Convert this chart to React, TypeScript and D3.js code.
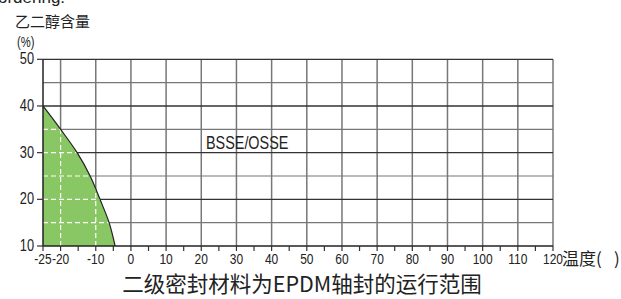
import React from "react";
import * as d3 from "d3";

const xTickLabels = [-25, -20, -10, 0, 10, 20, 30, 40, 50, 60, 70, 80, 90, 100, 110, 120];
const xMinorTicks = [-25, -20, -15, -10, -5, 0, 5, 10, 15, 20, 25, 30, 35, 40, 45, 50, 55, 60, 65, 70, 75, 80, 85, 90, 95, 100, 105, 110, 115, 120];
const xGrid = [-20, -10, 0, 10, 20, 30, 40, 50, 60, 70, 80, 90, 100, 110, 120];
const yTickLabels = [10, 20, 30, 40, 50];
const yGridMajor = [20, 30, 40, 50];
const yGridMinor = [15, 25, 35, 45];
// boundary of the operating range: glycol content (%) vs temperature
const boundaryGlycol = [40, 35, 30, 25, 20, 15, 10];
const boundaryTemp = [-25, -20, -15.3, -11.6, -8.8, -6.2, -4.5];

const W = 621, H = 299;
const left = 43, right = 553, top = 59.3, bottom = 246;

const narrowFont = "'Liberation Sans', Arial, sans-serif";
const cjkFont = "'Noto Sans CJK SC', 'Noto Sans', sans-serif";
const SX = 0.8;

function Narrow(props: { x: number; y: number; size: number; anchor?: string; children: React.ReactNode }) {
  return (
    <text
      transform={`translate(${props.x},${props.y}) scale(${SX},1)`}
      textAnchor={props.anchor || "start"}
      fontFamily={narrowFont}
      fontSize={props.size}
      fill="#222"
    >
      {props.children}
    </text>
  );
}

export default function App() {
  const x = d3.scaleLinear().domain([-25, 120]).range([left, right]);
  const y = d3.scaleLinear().domain([10, 50]).range([bottom, top]);

  const pts = boundaryGlycol.map((g, i) => ({ g, t: boundaryTemp[i] }));
  const curve = d3.line<{ g: number; t: number }>()
    .x(d => x(d.t)).y(d => y(d.g)).curve(d3.curveMonotoneY);
  const area = d3.area<{ g: number; t: number }>()
    .y(d => y(d.g)).x0(() => x(-25)).x1(d => x(d.t)).curve(d3.curveMonotoneY);
  const areaPath = area(pts) || "";
  const curvePath = curve(pts) || "";

  return (
    <svg width={W} height={H} style={{ position: "absolute", left: 0, top: 0, background: "#fff" }}>
      <defs>
        <clipPath id="greenClip"><path d={areaPath} /></clipPath>
      </defs>
      {/* cropped header text */}
      <text x={-2} y={3} fontFamily="'Liberation Sans', sans-serif" fontSize={17} fill="#222">ordering.</text>
      <text x={15} y={27} fontFamily={cjkFont} fontSize={15} fill="#222">乙二醇含量</text>
      <Narrow x={17} y={47} size={14}>(%)</Narrow>

      {/* grid */}
      {yGridMinor.map(v => (
        <line key={"ym" + v} x1={x(-25)} x2={x(120)} y1={y(v)} y2={y(v)} stroke="#777" strokeWidth={1.2} />
      ))}
      {xGrid.map(v => (
        <line key={"xg" + v} x1={x(v)} x2={x(v)} y1={y(10)} y2={y(50)} stroke="#777" strokeWidth={1.5} />
      ))}
      {yGridMajor.map(v => (
        <line key={"yg" + v} x1={x(-25)} x2={x(120)} y1={y(v)} y2={y(v)} stroke="#333" strokeWidth={1.3} />
      ))}

      {/* operating range */}
      <path d={areaPath} fill="#89c765" stroke="none" />
      <g clipPath="url(#greenClip)">
        {[...yGridMinor, ...yGridMajor].map(v => (
          <line key={"wy" + v} x1={x(-25)} x2={x(120)} y1={y(v)} y2={y(v)} stroke="#fff" strokeWidth={1.2} strokeDasharray="5,3" />
        ))}
        {xGrid.map(v => (
          <line key={"wx" + v} x1={x(v)} x2={x(v)} y1={y(10)} y2={y(50)} stroke="#fff" strokeWidth={1.2} strokeDasharray="5,3" />
        ))}
      </g>
      <path d={curvePath} fill="none" stroke="#222" strokeWidth={1.2} />

      {/* axes */}
      <line x1={x(-25)} x2={x(-25)} y1={y(10)} y2={y(50)} stroke="#222" strokeWidth={1.5} />
      <line x1={x(-25)} x2={x(120)} y1={y(10)} y2={y(10)} stroke="#222" strokeWidth={1.5} />
      {xMinorTicks.map(v => (
        <line key={"xt" + v} x1={x(v)} x2={x(v)} y1={y(10)} y2={y(10) + 5} stroke="#333" strokeWidth={1.2} />
      ))}
      {yTickLabels.map(v => (
        <line key={"yt" + v} x1={x(-25) - 6} x2={x(-25)} y1={y(v)} y2={y(v)} stroke="#333" strokeWidth={1.2} />
      ))}
      {yTickLabels.map(v => (
        <Narrow key={"yl" + v} x={34} y={y(v) + 5} size={16} anchor="end">{v}</Narrow>
      ))}
      {xTickLabels.map(v => (
        <Narrow key={"xl" + v} x={x(v)} y={264} size={15} anchor="middle">
          {v < 0 ? "-" + Math.abs(v) : String(v)}
        </Narrow>
      ))}
      <text x={562} y={265} fontFamily={cjkFont} fontSize={17} fill="#222">温度(</text>
      <text x={614} y={265} fontFamily={cjkFont} fontSize={17} fill="#222">)</text>

      <Narrow x={206} y={149} size={18}>BSSE/OSSE</Narrow>
      <text x={302} y={292} textAnchor="middle" fontFamily={cjkFont} fontSize={21.5} fill="#222">二级密封材料为EPDM轴封的运行范围</text>
    </svg>
  );
}
